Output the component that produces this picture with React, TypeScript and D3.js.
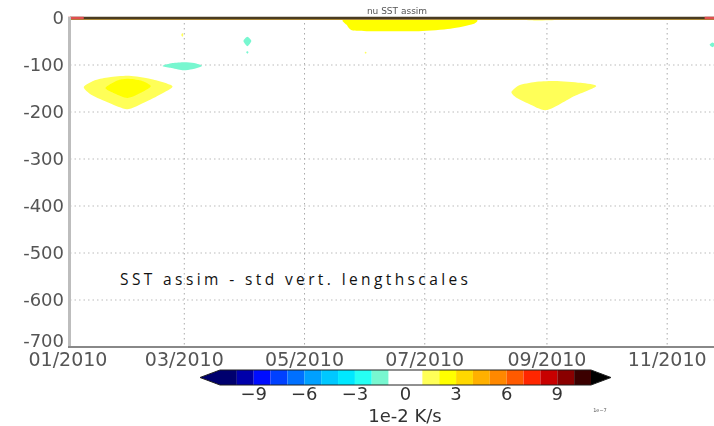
import * as d3 from "d3";

// ---- data (day of year 2010, depth in m) ----
const monthTicks = ["01/2010", "03/2010", "05/2010", "07/2010", "09/2010", "11/2010"];
const depthTicks = [0, -100, -200, -300, -400, -500, -600, -700];

type Pt = [number, number];

const janOuter: Pt[] = [
  [8, -147], [14, -132], [21, -126], [31, -123], [42, -130], [53, -145],
  [47, -162], [39, -179], [30, -194], [21, -181], [12, -164],
];
const janCore: Pt[] = [
  [19, -149], [25, -133], [30, -129], [37, -133], [42, -145],
  [36, -161], [30, -170], [24, -161],
];
const marCool: Pt[] = [
  [48, -102], [53, -96], [59, -94], [64, -96], [68, -102],
  [63, -109], [58, -111], [52, -106],
];
const aprCool: Pt[] = [[89, -49], [91, -40], [93, -49], [91, -60]];
const aprCoolDot: Pt[] = [[90.4, -73], [91, -71], [91.6, -73], [91, -76]];
const marWarmDot: Pt[] = [[57.5, -36], [58, -32], [58.5, -36], [58, -40]];
const junWarmDot: Pt[] = [[150.5, -74], [151, -72], [151.5, -74], [151, -76]];
const junSurface: Pt[] = [
  [141, -2], [141.5, -15], [144, -26], [153, -28], [178, -28],
  [194, -23], [205.5, -13], [206, -2], [175, 0],
];
const augSurface: Pt[] = [[226, -1], [235, -5], [248, -4], [263, -2], [245, 0]];
const sepWarm: Pt[] = [
  [225, -157], [229, -143], [237, -136], [247, -134], [260, -138], [268, -145],
  [257, -166], [243, -196], [234, -183], [227, -168],
];
const novCool: Pt[] = [[325.5, -57], [327, -52], [328.5, -57], [327, -62]];

// colour levels (1e-2 K/s)
const levelBounds = [-11, -10, -9, -8, -7, -6, -5, -4, -3, -2, -1, 1, 2, 3, 4, 5, 6, 7, 8, 9, 10, 11];
const levelColors = [
  "#00006e", "#0000aa", "#0010ff", "#0040ff", "#0070ff", "#00a0ff", "#00c8ff",
  "#00e8ff", "#28fff4", "#78f7d0", "#ffffff", "#ffff58", "#ffff00", "#ffd800",
  "#ffb000", "#ff8800", "#ff5a00", "#ff2800", "#c80000", "#8a0000", "#3a0000",
];
const lowColor = "#00006e";
const highColor = "#000000";
const cbTicks = [-9, -6, -3, 0, 3, 6, 9];

const blobs: { pts: Pt[]; color: string }[] = [
  { pts: janOuter, color: levelColors[11] },
  { pts: janCore, color: levelColors[12] },
  { pts: marCool, color: levelColors[9] },
  { pts: aprCool, color: levelColors[9] },
  { pts: aprCoolDot, color: levelColors[9] },
  { pts: marWarmDot, color: levelColors[11] },
  { pts: junWarmDot, color: levelColors[11] },
  { pts: junSurface, color: levelColors[12] },
  { pts: augSurface, color: levelColors[11] },
  { pts: sepWarm, color: levelColors[11] },
  { pts: novCool, color: levelColors[9] },
];

export default function App() {
  const width = 714;
  const height = 426;
  const start = new Date(2010, 0, 1);
  const dayDate = (d: number) => new Date(start.getTime() + d * 864e5);

  const x = d3.scaleTime().domain([start, new Date(2010, 11, 31)]).range([68, 68 + 364 * 1.971]);
  const y = d3.scaleLinear().domain([0, -700]).range([18, 347]);
  const monthDates = d3.timeMonth.every(2)!.range(start, new Date(2010, 11, 1));

  const shape = d3
    .line<Pt>()
    .curve(d3.curveCardinalClosed.tension(0.3))
    .x((p) => x(dayDate(p[0])))
    .y((p) => y(p[1]));

  const cb = d3.scaleLinear().domain([-11, 11]).range([220, 591]);
  const cbTop = 370;
  const cbBot = 385;
  const cbMid = (cbTop + cbBot) / 2;

  return (
    <svg
      width={width}
      height={height}
      style={{ position: "fixed", left: 0, top: 0, background: "#fff" }}
    >
      <defs>
        <clipPath id="plot">
          <rect x={69} y={18} width={width - 69} height={329} />
        </clipPath>
        <filter id="soft">
          <feGaussianBlur stdDeviation="0.6" />
        </filter>
      </defs>

      <g filter="url(#soft)">
        <text x={397} y={14} fontSize={9} fill="#555" textAnchor="middle" fontFamily="DejaVu Sans">
          nu SST assim
        </text>

        {/* grid */}
        {depthTicks.slice(1, -1).map((d) => (
          <line key={d} x1={70} x2={width} y1={y(d)} y2={y(d)} stroke="#bbb" strokeDasharray="1.5,3" />
        ))}
        {monthDates.slice(1).map((m) => (
          <line key={+m} x1={x(m)} x2={x(m)} y1={18} y2={347} stroke="#aaa" strokeDasharray="1.5,3.5" />
        ))}

        {/* filled contours */}
        <g clipPath="url(#plot)">
          {blobs.map((b, i) => (
            <path key={i} d={shape(b.pts) ?? ""} fill={b.color} />
          ))}
        </g>

        {/* surface contour line */}
        <line x1={70} x2={width} y1={19.5} y2={19.5} stroke="#c8a040" strokeWidth={1} />
        <line x1={70} x2={width} y1={18} y2={18} stroke="#4a3a22" strokeWidth={2.5} />
        <line x1={x(dayDate(0))} x2={x(dayDate(8))} y1={18} y2={18} stroke="#e05050" strokeWidth={2.5} />
        <line x1={x(dayDate(323))} x2={width} y1={18} y2={18} stroke="#e05050" strokeWidth={2.5} />

        {/* axes */}
        <line x1={69.5} x2={69.5} y1={17} y2={347} stroke="#bdbdbd" strokeWidth={3} />
        <line x1={68} x2={width} y1={347} y2={347} stroke="#888" strokeWidth={2} />

        {depthTicks.map((d) => (
          <text
            key={d}
            x={64}
            y={y(d) + (d === -700 ? -6 : 0)}
            dy="0.36em"
            textAnchor="end"
            fontSize={18}
            fill="#555"
            fontFamily="DejaVu Sans"
          >
            {d}
          </text>
        ))}
        {monthDates.map((m, i) => (
          <text
            key={+m}
            x={x(m)}
            y={366}
            textAnchor="middle"
            fontSize={19}
            fill="#555"
            fontFamily="DejaVu Sans"
          >
            {monthTicks[i]}
          </text>
        ))}

        {/* colorbar */}
        {levelColors.map((c, i) => (
          <rect
            key={i}
            x={cb(levelBounds[i])}
            y={cbTop}
            width={cb(levelBounds[i + 1]) - cb(levelBounds[i])}
            height={cbBot - cbTop}
            fill={c}
          />
        ))}
        <path d={`M${cb(-11)},${cbTop}L200,${cbMid}L${cb(-11)},${cbBot}Z`} fill={lowColor} />
        <path d={`M${cb(11)},${cbTop}L611,${cbMid}L${cb(11)},${cbBot}Z`} fill={highColor} />
        <path
          d={`M${cb(-11)},${cbTop}L200,${cbMid}L${cb(-11)},${cbBot}L${cb(11)},${cbBot}L611,${cbMid}L${cb(11)},${cbTop}Z`}
          fill="none"
          stroke="#222"
          strokeWidth={1}
        />
        {cbTicks.map((t) => (
          <text
            key={t}
            x={cb(t)}
            y={400}
            textAnchor="middle"
            fontSize={18}
            fill="#333"
            fontFamily="DejaVu Sans"
          >
            {t < 0 ? `\u2212${-t}` : t}
          </text>
        ))}
        <text x={405} y={422} textAnchor="middle" fontSize={18} fill="#333" fontFamily="DejaVu Sans">
          1e-2 K/s
        </text>
        <text x={600} y={412} textAnchor="middle" fontSize={5} fill="#555" fontFamily="DejaVu Sans">
          1e−7
        </text>
      </g>

      <text
        x={120}
        y={285}
        fontSize={15.5}
        fill="#111"
        fontFamily="Open Sans"
        textLength={348}
        lengthAdjust="spacing"
      >
        SST assim - std vert. lengthscales
      </text>
    </svg>
  );
}
